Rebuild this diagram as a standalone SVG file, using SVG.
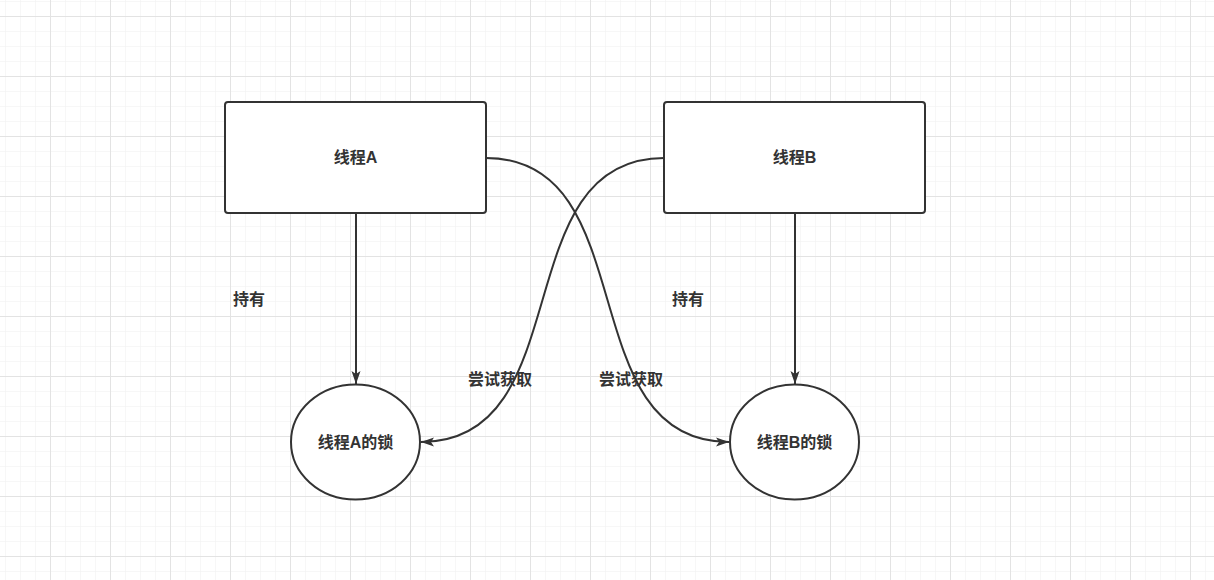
<svg xmlns="http://www.w3.org/2000/svg" width="1214" height="580" viewBox="0 0 1214 580">
<defs>
<pattern id="minor" x="5" y="1" width="15" height="15" patternUnits="userSpaceOnUse">
<path d="M0 0H15M0 0V15" fill="none" stroke="#f0f0f0" stroke-width="1"/>
</pattern>
<pattern id="major" x="50" y="16" width="60" height="60" patternUnits="userSpaceOnUse">
<path d="M0 0.5H60M0.5 0V60" fill="none" stroke="#e3e3e3" stroke-width="1"/>
</pattern>
<marker id="arr" viewBox="0 0 13 10" refX="13" refY="5" markerWidth="13" markerHeight="10" markerUnits="userSpaceOnUse" orient="auto">
<path d="M0 0.5L13 5L0 9.5L3 5Z" fill="#333"/>
</marker>
<style>
.box{fill:#fff;stroke:#333;stroke-width:2}
.edge{fill:none;stroke:#333;stroke-width:2;marker-end:url(#arr)}
.t{font-family:"Liberation Sans","Noto Sans CJK SC",sans-serif;font-size:16px;font-weight:bold;fill:#333;text-anchor:middle;dominant-baseline:central}
</style>
</defs>
<rect width="1214" height="580" fill="#fff"/>
<rect width="1214" height="580" fill="url(#minor)"/>
<rect width="1214" height="580" fill="url(#major)"/>
<g id="connectors">
<path class="edge" d="M356 213V384"/>
<path class="edge" d="M795 213V384"/>
<path class="edge" d="M486 158C646 158 569 442 729 442"/>
<path class="edge" d="M664 158C504 158 581 442 421 442"/>
<text class="t" x="249" y="299">持有</text>
<text class="t" x="688" y="299">持有</text>
<text class="t" x="500" y="379">尝试获取</text>
<text class="t" x="631" y="379">尝试获取</text>
</g>
<g id="threadA">
<rect class="box" x="225" y="102" width="261" height="111" rx="3"/>
<text class="t" x="355.5" y="157.5">线程A</text>
</g>
<g id="threadB">
<rect class="box" x="664" y="102" width="261" height="111" rx="3"/>
<text class="t" x="794.5" y="157.5">线程B</text>
</g>
<g id="lockA">
<ellipse class="box" cx="355.5" cy="442" rx="64.5" ry="57.5"/>
<text class="t" x="355.5" y="442">线程A的锁</text>
</g>
<g id="lockB">
<ellipse class="box" cx="794.5" cy="442" rx="64.5" ry="57.5"/>
<text class="t" x="794.5" y="442">线程B的锁</text>
</g>
</svg>
